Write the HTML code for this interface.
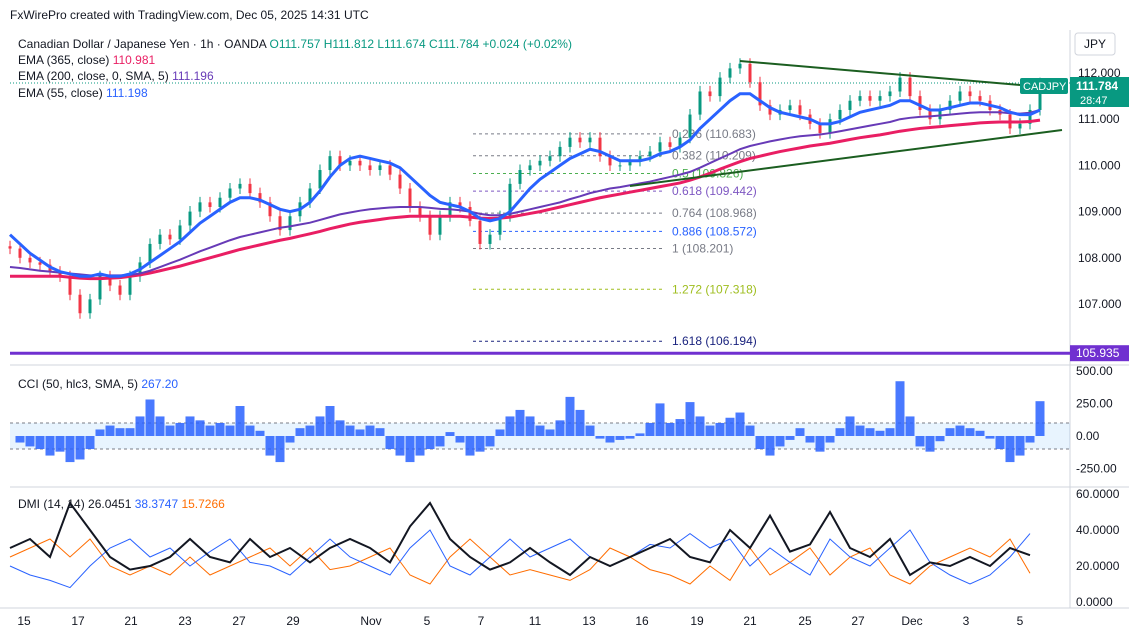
<!DOCTYPE html>
<html><head><meta charset="utf-8"><style>
html,body{margin:0;padding:0;background:#fff;}
body{width:1129px;height:638px;overflow:hidden;font-family:"Liberation Sans",sans-serif;}
svg text{font-family:"Liberation Sans",sans-serif;}
</style></head><body>
<svg id="c" width="1129" height="638" xmlns="http://www.w3.org/2000/svg"></svg>
<script>
// ---- data ----
const closes=[108.2,108.0,107.9,107.85,107.7,107.6,107.2,106.8,107.1,107.6,107.4,107.2,107.6,107.9,108.3,108.5,108.4,108.7,109.0,109.2,109.1,109.3,109.5,109.6,109.4,109.2,108.9,108.6,108.9,109.2,109.5,109.9,110.2,110.0,110.1,110.0,109.9,110.0,109.8,109.5,109.1,108.9,108.5,108.9,109.2,109.1,108.8,108.3,108.5,108.9,109.6,109.9,110.0,110.1,110.2,110.4,110.6,110.5,110.6,110.2,110.0,110.0,110.1,110.2,110.3,110.5,110.4,110.6,111.1,111.6,111.5,111.9,112.1,112.2,111.8,111.3,111.1,111.2,111.3,111.1,110.9,110.7,111.0,111.2,111.4,111.5,111.4,111.5,111.6,111.9,111.5,111.2,111.0,111.2,111.4,111.6,111.5,111.4,111.2,111.1,110.8,110.9,111.2,111.78];
const ema55=[108.5,108.3,108.1,107.95,107.8,107.7,107.65,107.6,107.6,107.65,107.6,107.6,107.65,107.75,107.9,108.05,108.2,108.35,108.55,108.75,108.9,109.05,109.2,109.3,109.3,109.25,109.15,109.05,109.0,109.05,109.2,109.45,109.75,110.0,110.15,110.2,110.15,110.1,110.05,109.95,109.75,109.55,109.35,109.2,109.15,109.1,109.0,108.85,108.8,108.85,109.0,109.25,109.5,109.7,109.85,110.0,110.15,110.25,110.35,110.3,110.2,110.1,110.1,110.1,110.15,110.25,110.3,110.4,110.55,110.8,111.0,111.2,111.4,111.55,111.55,111.4,111.25,111.15,111.1,111.05,111.0,110.9,110.9,110.95,111.05,111.15,111.2,111.25,111.3,111.4,111.4,111.3,111.2,111.2,111.25,111.3,111.35,111.35,111.3,111.25,111.15,111.1,111.1,111.2];
const ema200=[107.8,107.78,107.75,107.72,107.7,107.68,107.66,107.64,107.62,107.62,107.62,107.62,107.63,107.66,107.72,107.8,107.88,107.96,108.05,108.14,108.22,108.3,108.38,108.45,108.5,108.55,108.6,108.65,108.68,108.72,108.76,108.82,108.88,108.94,108.98,109.02,109.05,109.07,109.09,109.1,109.1,109.1,109.08,109.06,109.05,109.03,109.0,108.95,108.92,108.92,108.95,109.0,109.05,109.1,109.15,109.2,109.27,109.33,109.4,109.45,109.5,109.53,109.57,109.61,109.65,109.7,109.75,109.8,109.86,109.95,110.05,110.15,110.25,110.35,110.42,110.47,110.52,110.56,110.6,110.63,110.65,110.67,110.7,110.74,110.78,110.82,110.86,110.9,110.94,111.0,111.03,111.05,111.06,111.08,111.1,111.12,111.14,111.15,111.15,111.15,111.13,111.12,111.14,111.2];
const ema365=[107.6,107.6,107.6,107.6,107.6,107.6,107.58,107.56,107.55,107.55,107.56,107.57,107.6,107.63,107.67,107.72,107.77,107.82,107.88,107.94,108.0,108.06,108.12,108.18,108.23,108.28,108.33,108.38,108.42,108.47,108.52,108.57,108.63,108.68,108.73,108.77,108.8,108.83,108.86,108.88,108.9,108.9,108.9,108.9,108.9,108.9,108.88,108.86,108.85,108.86,108.88,108.92,108.96,109.0,109.05,109.1,109.15,109.2,109.25,109.3,109.34,109.38,109.42,109.46,109.5,109.54,109.58,109.62,109.68,109.75,109.83,109.92,110.0,110.08,110.15,110.2,110.25,110.3,110.34,110.38,110.42,110.45,110.48,110.52,110.56,110.6,110.63,110.66,110.7,110.74,110.77,110.8,110.82,110.84,110.86,110.88,110.9,110.92,110.93,110.94,110.94,110.94,110.95,110.98];
const cci=[0,-50,-80,-100,-150,-120,-200,-180,-100,50,80,60,60,150,280,150,80,100,150,120,80,100,80,230,80,40,-150,-200,-50,60,80,150,230,120,80,50,80,60,-100,-150,-200,-150,-100,-80,30,-50,-150,-120,-80,50,150,200,150,80,50,120,300,200,80,-20,-50,-30,-20,20,100,250,100,130,260,150,80,100,140,180,80,-100,-150,-80,-30,60,-50,-120,-50,60,150,80,60,40,60,420,150,-80,-120,-40,60,80,60,40,-20,-100,-200,-150,-50,267];
const adx=[30,35,25,55,40,25,18,20,25,35,25,22,35,25,30,22,30,35,30,22,42,55,35,25,18,22,30,22,15,25,20,25,30,35,25,22,40,30,48,28,32,50,30,25,35,15,22,20,25,20,30,26];
const pdi=[20,15,12,8,20,30,35,25,30,20,28,35,22,20,15,25,35,25,20,15,30,40,20,15,25,35,25,30,35,25,20,25,32,30,38,30,35,20,30,22,15,35,25,20,30,40,22,15,10,15,25,38];
const mdi=[25,30,35,25,35,20,15,20,15,25,15,20,25,30,20,30,18,20,25,30,15,10,25,35,25,15,18,15,12,18,30,25,18,15,10,20,12,30,15,22,30,15,25,30,15,10,20,25,30,25,35,16];
const priceTicks=[112,111,110,109,108,107];
const cciTicks=[500,250,0,-250];
const dmiTicks=[60,40,20,0];
const xLabels=["15","17","21","23","27","29","Nov","5","7","11","13","16","19","21","25","27","Dec","3","5"];
const xLabelPos=[24,78,131,185,239,293,371,427,481,535,589,642,697,750,805,858,912,966,1020];
const fibLevels=[0.236,0.382,0.5,0.618,0.764,0.886,1,1.272,1.618];
const fibPrices=[110.683,110.209,109.826,109.442,108.968,108.572,108.201,107.318,106.194];
// ---- scales ----
const NS="http://www.w3.org/2000/svg";
const svg=document.getElementById('c');
const yP=p=>73+(112-p)*46.2;
const yC=v=>436-v*0.1304;
const yD=v=>602-v*1.8;
const xI=i=>10+i*10;
const xD=i=>10+i*20;
function el(t,a,p){const e=document.createElementNS(NS,t);for(const k in a)e.setAttribute(k,a[k]);(p||svg).appendChild(e);return e;}
function txt(x,y,s,a){const e=el('text',Object.assign({x:x,y:y,'font-size':12},a));e.textContent=s;return e;}
function poly(arr,xf,yf,a){return el('polyline',Object.assign({points:arr.map((v,i)=>xf(i)+','+yf(v)).join(' '),fill:'none'},a));}
let g;
el('line',{x1:10,y1:365,x2:1129,y2:365,stroke:'#d1d4dc'});
el('line',{x1:10,y1:487,x2:1129,y2:487,stroke:'#d1d4dc'});
el('line',{x1:0,y1:608,x2:1129,y2:608,stroke:'#d1d4dc'});
el('line',{x1:1070,y1:30,x2:1070,y2:608,stroke:'#d1d4dc'});
g=txt(10,19,"FxWirePro created with TradingView.com, Dec 05, 2025 14:31 UTC",{fill:'#131722','font-size':12});

const fibColors=['#787b86','#787b86','#4caf50','#7e57c2','#787b86','#2962ff','#787b86','#9fbe1f','#1a237e'];
fibPrices.forEach((p,i)=>{
 const l=el('line',{x1:473,y1:yP(p),x2:665,y2:yP(p),stroke:fibColors[i],'stroke-dasharray':'3,3','stroke-width':1});
 
 const t=txt(672,yP(p)+4,fibLevels[i]+' ('+p.toFixed(3)+')',{fill:fibColors[i],'font-size':12});
 
});
el('line',{x1:10,y1:yP(111.784),x2:1070,y2:yP(111.784),stroke:'#089981','stroke-dasharray':'1,2'});
g=el('line',{x1:10,y1:yP(105.935),x2:1070,y2:yP(105.935),stroke:'#7030d0','stroke-width':3});

closes.forEach((c,i)=>{
 const o=i?closes[i-1]:c+0.05;const up=c>=o;const col=up?'#089981':'#f23645';
 const x=xI(i);
 el('line',{x1:x,y1:yP(Math.max(o,c)+0.12),x2:x,y2:yP(Math.min(o,c)-0.12),stroke:col});
 const r=el('rect',{x:x-1.5,y:yP(Math.max(o,c)),width:3,height:Math.max(1,Math.abs(yP(o)-yP(c))),fill:col});
 
});
g=poly(ema365,xI,yP,{stroke:'#e91e63','stroke-width':3});
g=poly(ema200,xI,yP,{stroke:'#673ab7','stroke-width':2});
g=poly(ema55,xI,yP,{stroke:'#2962ff','stroke-width':3});
g=el('line',{x1:740,y1:61,x2:1020,y2:85,stroke:'#1b5e20','stroke-width':2});
g=el('line',{x1:630,y1:186,x2:1062,y2:130,stroke:'#1b5e20','stroke-width':2});
g=txt(18,48,'',{'font-size':12});
g.innerHTML='<tspan fill="#131722">Canadian Dollar / Japanese Yen · 1h · OANDA  </tspan><tspan fill="#089981">O111.757 H111.812 L111.674 C111.784 +0.024 (+0.02%)</tspan>';
g=txt(18,64,'',{});g.innerHTML='<tspan fill="#131722">EMA (365, close) </tspan><tspan fill="#e91e63">110.981</tspan>';
g=txt(18,80,'',{});g.innerHTML='<tspan fill="#131722">EMA (200, close, 0, SMA, 5) </tspan><tspan fill="#673ab7">111.196</tspan>';
g=txt(18,97,'',{});g.innerHTML='<tspan fill="#131722">EMA (55, close) </tspan><tspan fill="#2962ff">111.198</tspan>';
priceTicks.forEach(p=>{const t=txt(1078,yP(p)+4,p.toFixed(3),{fill:'#131722'});});
g=el('rect',{x:1075,y:33,width:40,height:22,rx:3,fill:'#fff',stroke:'#d1d4dc'});
txt(1084,48,'JPY',{fill:'#131722'});
el('rect',{x:1020,y:78,width:48,height:16,rx:2,fill:'#089981'});
txt(1023,90,'CADJPY',{fill:'#fff','font-size':11});
el('rect',{x:1070,y:77,width:59,height:30,fill:'#089981'});
txt(1076,90,'111.784',{fill:'#fff','font-weight':'bold'});
txt(1080,104,'28:47',{fill:'#fff','font-size':11});
el('rect',{x:1070,y:yP(105.935)-8,width:59,height:16,fill:'#7030d0'});
txt(1076,yP(105.935)+4,'105.935',{fill:'#fff'});
el('rect',{x:10,y:yC(100),width:1060,height:yC(-100)-yC(100),fill:'#2196f3','fill-opacity':0.1});
el('line',{x1:10,y1:yC(100),x2:1070,y2:yC(100),stroke:'#787b86','stroke-dasharray':'3,3'});
el('line',{x1:10,y1:yC(-100),x2:1070,y2:yC(-100),stroke:'#787b86','stroke-dasharray':'3,3'});
cci.forEach((v,i)=>{const r=el('rect',{x:xI(i)-4.5,y:Math.min(yC(v),yC(0)),width:9,height:Math.abs(yC(v)-yC(0)),fill:'#2962ff','fill-opacity':0.85});});
cciTicks.forEach(v=>{const t=txt(1076,yC(v)+4,v.toFixed(2),{fill:'#131722'});});
g=txt(18,388,'',{});g.innerHTML='<tspan fill="#131722">CCI (50, hlc3, SMA, 5) </tspan><tspan fill="#2962ff">267.20</tspan>';
g=poly(mdi,xD,yD,{stroke:'#ff6d00','stroke-width':1});
g=poly(pdi,xD,yD,{stroke:'#2962ff','stroke-width':1});
g=poly(adx,xD,yD,{stroke:'#131722','stroke-width':2});
dmiTicks.forEach(v=>{const t=txt(1076,yD(v)+4,v.toFixed(4),{fill:'#131722'});});
g=txt(18,508,'',{});g.innerHTML='<tspan fill="#131722">DMI (14, 14) 26.0451 </tspan><tspan fill="#2962ff">38.3747 </tspan><tspan fill="#ff6d00">15.7266</tspan>';
xLabels.forEach((s,i)=>{const t=txt(xLabelPos[i],625,s,{fill:'#131722','text-anchor':'middle'});});
</script>
</body></html>
